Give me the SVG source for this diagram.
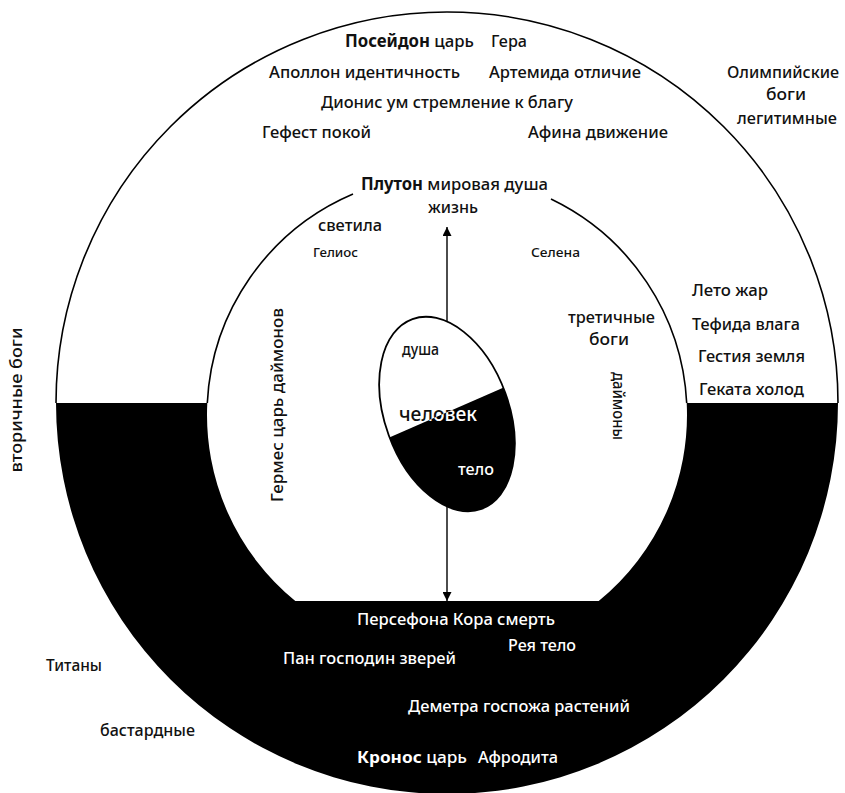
<svg xmlns="http://www.w3.org/2000/svg" width="845" height="793" viewBox="0 0 845 793">
  <style>
    text { font-family: "Noto Sans", "Liberation Sans", sans-serif; font-size: 17px; font-weight: 500; fill: #111; }
    .w { fill: #fff; }
    .b { font-weight: bold; }
    .sm { font-size: 13px; }
    .lo { font-size: 15.5px; }
    .line { fill: none; stroke: #000; stroke-width: 1.6; }
  </style>
  <defs>
    <marker id="head" viewBox="0 0 10 10" refX="10" refY="5" markerWidth="11" markerHeight="9" markerUnits="userSpaceOnUse" orient="auto-start-reverse">
      <path d="M0,0 L10,5 L0,10 Z" fill="#000"/>
    </marker>
    <clipPath id="eggClip">
      <ellipse cx="447" cy="414" rx="62" ry="101" transform="rotate(-20 447 414)"/>
    </clipPath>
    <clipPath id="upperClip">
      <polygon points="300,300 600,300 600,345.4 300,476.5"/>
    </clipPath>
    <clipPath id="lowerClip">
      <polygon points="300,476.5 600,345.4 600,560 300,560"/>
    </clipPath>
  </defs>

  <rect width="845" height="793" fill="#fff"/>

  <!-- dark lower band between outer circle and inner circle -->
  <g id="lower-band">
    <path fill="#000" fill-rule="evenodd" d="M56,403 A391,391 0 0 0 838,403 Z M207.3,403 A240,240 0 0 0 295.3,601 L598.7,601 A240,240 0 0 0 686.7,403 Z"/>
  </g>

  <!-- upper rims -->
  <g id="outer-circle">
    <path class="line" d="M56,403 A391,391 0 0 1 838,403"/>
  </g>
  <g id="inner-circle">
    <path class="line" d="M207.3,403 A240,240 0 0 1 353,194"/>
    <path class="line" d="M551,199 A240,240 0 0 1 686.7,403"/>
  </g>

  <g id="connectors">
    <line x1="447" y1="227" x2="447" y2="601" stroke="#000" stroke-width="1.4" marker-start="url(#head)" marker-end="url(#head)"/>
  </g>

  <!-- man: soul above, body below -->
  <g id="human">
    <ellipse cx="447" cy="414" rx="62" ry="101" transform="rotate(-20 447 414)" fill="#fff"/>
    <g clip-path="url(#eggClip)">
      <polygon points="300,476.5 600,345.4 600,560 300,560" fill="#000"/>
    </g>
    <ellipse cx="447" cy="414" rx="62" ry="101" transform="rotate(-20 447 414)" fill="none" stroke="#000" stroke-width="1.8"/>
    <text x="402" y="355" textLength="37" lengthAdjust="spacingAndGlyphs">душа</text>
    <g clip-path="url(#upperClip)">
      <text x="399" y="421" style="font-size:19px" textLength="78" lengthAdjust="spacingAndGlyphs">человек</text>
    </g>
    <g clip-path="url(#lowerClip)">
      <text class="w" x="399" y="421" style="font-size:19px" textLength="78" lengthAdjust="spacingAndGlyphs">человек</text>
    </g>
    <text class="w lo" x="458" y="475" textLength="36" lengthAdjust="spacingAndGlyphs">тело</text>
  </g>

  <g id="olympians">
    <text x="345" y="47" textLength="129" lengthAdjust="spacingAndGlyphs"><tspan class="b">Посейдон</tspan> царь</text>
    <text x="491" y="47" textLength="36" lengthAdjust="spacingAndGlyphs">Гера</text>
    <text x="269" y="78" textLength="191" lengthAdjust="spacingAndGlyphs">Аполлон идентичность</text>
    <text x="489" y="78" textLength="152" lengthAdjust="spacingAndGlyphs">Артемида отличие</text>
    <text x="321" y="108" textLength="252" lengthAdjust="spacingAndGlyphs">Дионис ум стремление к благу</text>
    <text x="262" y="138" textLength="109" lengthAdjust="spacingAndGlyphs">Гефест покой</text>
    <text x="528" y="138" textLength="140" lengthAdjust="spacingAndGlyphs">Афина движение</text>
  </g>

  <g id="olympians-caption">
    <text x="727" y="78" textLength="112" lengthAdjust="spacingAndGlyphs">Олимпийские</text>
    <text x="766" y="100" textLength="40" lengthAdjust="spacingAndGlyphs">боги</text>
    <text x="737" y="124" textLength="100" lengthAdjust="spacingAndGlyphs">легитимные</text>
  </g>

  <g id="pluto">
    <text x="361" y="190" textLength="187" lengthAdjust="spacingAndGlyphs"><tspan class="b">Плутон</tspan> мировая душа</text>
    <text x="428" y="213" textLength="50" lengthAdjust="spacingAndGlyphs">жизнь</text>
  </g>

  <g id="luminaries">
    <text x="318" y="231" textLength="64" lengthAdjust="spacingAndGlyphs">светила</text>
    <text class="sm" x="313" y="257" textLength="45" lengthAdjust="spacingAndGlyphs">Гелиос</text>
    <text class="sm" x="531" y="257" textLength="49" lengthAdjust="spacingAndGlyphs">Селена</text>
  </g>

  <g id="tertiary-gods">
    <text x="568" y="323" textLength="87" lengthAdjust="spacingAndGlyphs">третичные</text>
    <text x="589" y="345" textLength="40" lengthAdjust="spacingAndGlyphs">боги</text>
  </g>

  <g id="elements">
    <text x="692" y="296" textLength="76" lengthAdjust="spacingAndGlyphs">Лето жар</text>
    <text x="692" y="330" textLength="108" lengthAdjust="spacingAndGlyphs">Тефида влага</text>
    <text x="698" y="362" textLength="107" lengthAdjust="spacingAndGlyphs">Гестия земля</text>
    <text x="699" y="395" textLength="105" lengthAdjust="spacingAndGlyphs">Геката холод</text>
  </g>

  <g id="hermes">
    <text transform="translate(283,405) rotate(-90)" text-anchor="middle" textLength="194" lengthAdjust="spacingAndGlyphs">Гермес царь даймонов</text>
  </g>

  <g id="daimons">
    <text transform="translate(613,406) rotate(90)" text-anchor="middle" textLength="68" lengthAdjust="spacingAndGlyphs">даймоны</text>
  </g>

  <g id="secondary-gods">
    <text transform="translate(22,400) rotate(-90)" text-anchor="middle" textLength="145" lengthAdjust="spacingAndGlyphs">вторичные боги</text>
  </g>

  <g id="chthonic">
    <text class="w lo" x="357" y="625" textLength="198" lengthAdjust="spacingAndGlyphs">Персефона Кора смерть</text>
    <text class="w lo" x="508" y="651" textLength="68" lengthAdjust="spacingAndGlyphs">Рея тело</text>
    <text class="w lo" x="283" y="664" textLength="173" lengthAdjust="spacingAndGlyphs">Пан господин зверей</text>
    <text class="w lo" x="408" y="712" textLength="222" lengthAdjust="spacingAndGlyphs">Деметра госпожа растений</text>
    <text class="w lo" x="357" y="763" textLength="110" lengthAdjust="spacingAndGlyphs"><tspan class="b">Кронос</tspan> царь</text>
    <text class="w lo" x="478" y="763" textLength="80" lengthAdjust="spacingAndGlyphs">Афродита</text>
  </g>

  <g id="titans">
    <text x="46" y="671" textLength="56" lengthAdjust="spacingAndGlyphs">Титаны</text>
    <text x="100" y="736" textLength="95" lengthAdjust="spacingAndGlyphs">бастардные</text>
  </g>
</svg>
